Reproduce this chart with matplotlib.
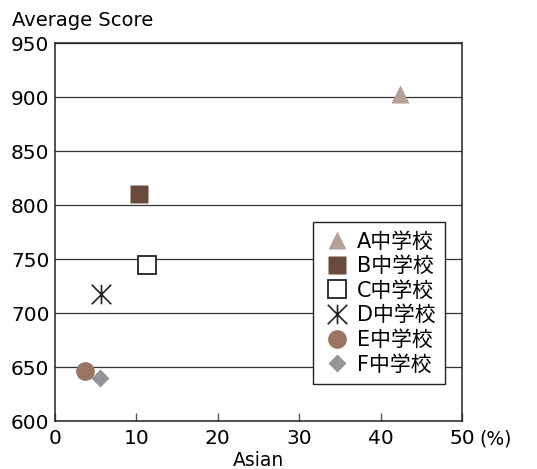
import matplotlib
matplotlib.use("Agg")
import matplotlib.pyplot as plt
from matplotlib.path import Path

plt.rcParams['font.family'] = ['DejaVu Sans', 'Noto Sans CJK JP']

# 数据
schools = ["A中学校", "B中学校", "C中学校", "D中学校", "E中学校", "F中学校"]
asian_pct = [42.4, 10.3, 11.3, 5.6, 3.7, 5.5]
avg_score = [903, 810, 744, 718, 646, 640]
x_ticks = [0, 10, 20, 30, 40, 50]
y_ticks = [600, 650, 700, 750, 800, 850, 900, 950]

# X + 竖线 的星形标记
star = Path([(-1, -1), (1, 1), (-1, 1), (1, -1), (0, -1), (0, 1)],
            [Path.MOVETO, Path.LINETO, Path.MOVETO, Path.LINETO, Path.MOVETO, Path.LINETO])

styles = [
    dict(marker="^", color="#b5a097", markersize=13, mec="none"),
    dict(marker="s", color="#6b4a3e", markersize=13.5, mec="none"),
    dict(marker="s", mfc="white", mec="#222222", mew=1.3, markersize=13),
    dict(marker=star, color="#222222", mew=1.2, markersize=14),
    dict(marker="o", color="#9b7463", markersize=13.5, mec="none"),
    dict(marker="D", color="#939598", markersize=9, mec="none"),
]

fig = plt.figure(figsize=(5.37, 4.69), dpi=100)
ax = fig.add_axes([0.1024, 0.1023, 0.758, 0.806])

for name, x, y, st in zip(schools, asian_pct, avg_score, styles):
    ax.plot([x], [y], linestyle="none", label=name, **st)

ax.set_xlim(0, 50)
ax.set_ylim(600, 950)
ax.set_xticks(x_ticks)
ax.set_yticks(y_ticks)
ax.yaxis.grid(True, color="#333333", linewidth=0.9)
ax.set_axisbelow(True)
ax.tick_params(axis="x", direction="in", length=6, width=1, color="#555555",
               labelsize=14.5, pad=6)
ax.tick_params(axis="y", length=0, labelsize=14.5, pad=4)
for s in ax.spines.values():
    s.set_color("#222222")
    s.set_linewidth(1.1)

ax.set_xlabel("Asian", fontsize=13.5, labelpad=2)
fig.text(0.022, 0.957, "Average Score", fontsize=14, va="center", ha="left")
ax.text(1.042, -0.048, "(%)", transform=ax.transAxes, fontsize=13.5,
        va="center", ha="left")

leg = ax.legend(loc="upper left", bbox_to_anchor=(0.634, 0.526), fontsize=15,
                frameon=True, fancybox=False, edgecolor="#222222",
                framealpha=1, borderpad=0.45, labelspacing=0.22,
                handlelength=1.4, handletextpad=0.25, borderaxespad=0)
leg.get_frame().set_linewidth(1.0)

plt.savefig("out.png", dpi=100)
plt.close()
